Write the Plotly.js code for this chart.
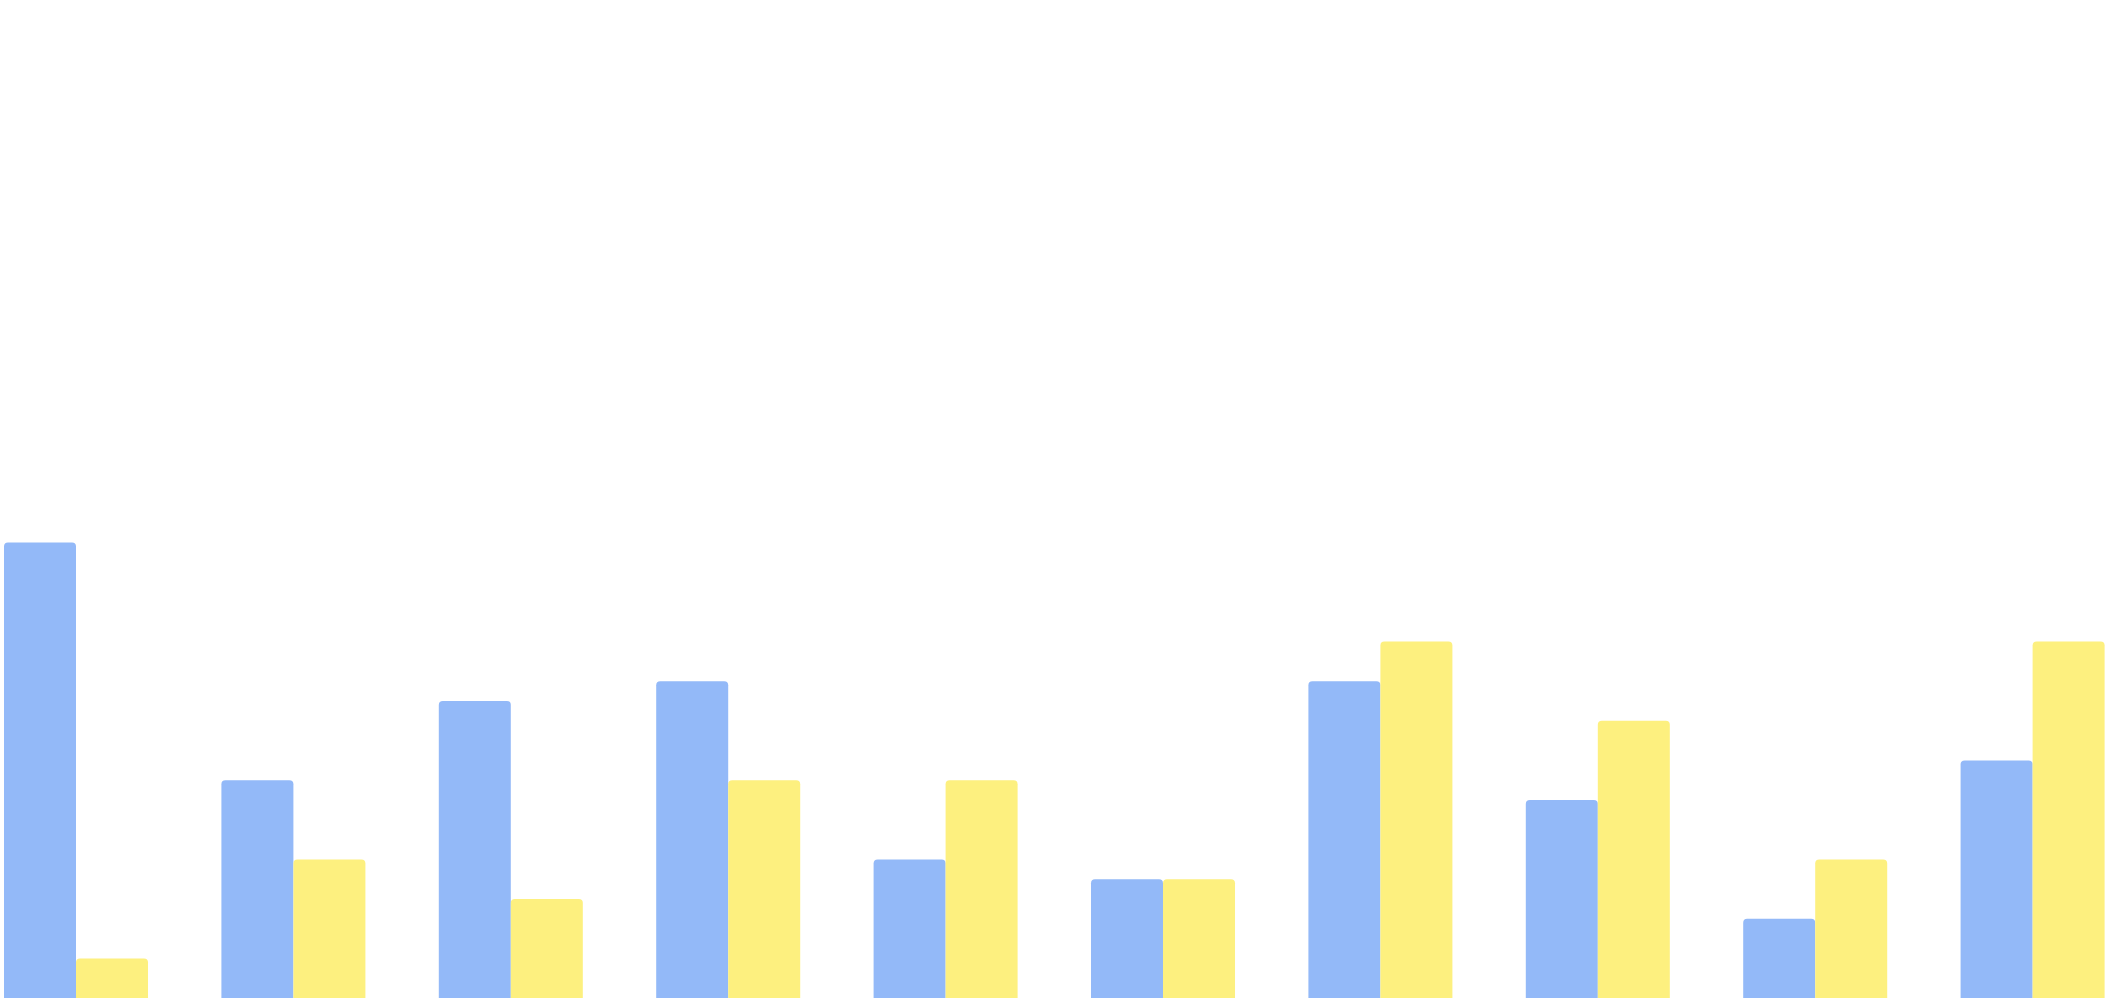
<!DOCTYPE html>
<html>
<head>
<meta charset="utf-8">
<script src="https://cdn.plot.ly/plotly-3.0.1.min.js"></script>
<style>html,body{margin:0;padding:0;background:#fff;overflow:hidden}#chart{width:2105px;height:1000px}</style>
</head>
<body>
<div id="chart"></div>
<script>
const categories = ["1","2","3","4","5","6","7","8","9","10"];
const seriesBlue = [23, 11, 15, 16, 7, 6, 16, 10, 4, 12];
const seriesYellow = [2, 7, 5, 11, 11, 6, 18, 14, 7, 18];

const traces = [
  {type: "bar", x: categories, y: seriesBlue, name: "A",
   marker: {color: "#93B9F8", line: {width: 0}}, hoverinfo: "none"},
  {type: "bar", x: categories, y: seriesYellow, name: "B",
   marker: {color: "#FDF07F", line: {width: 0}}, hoverinfo: "none"}
];

const layout = {
  width: 2105, height: 1000,
  margin: {l: 0, r: 0, t: 8, b: 2, pad: 0},
  paper_bgcolor: "#ffffff", plot_bgcolor: "#ffffff",
  barmode: "group", bargap: 0.3376, bargroupgap: 0,
  barcornerradius: 4,
  showlegend: false,
  xaxis: {type: "category", range: [-0.3496, 9.333], visible: false, showgrid: false, zeroline: false, fixedrange: true},
  yaxis: {range: [0, 50], visible: false, showgrid: false, zeroline: false, fixedrange: true}
};

Plotly.newPlot("chart", traces, layout, {displayModeBar: false, staticPlot: true});
</script>
</body>
</html>
